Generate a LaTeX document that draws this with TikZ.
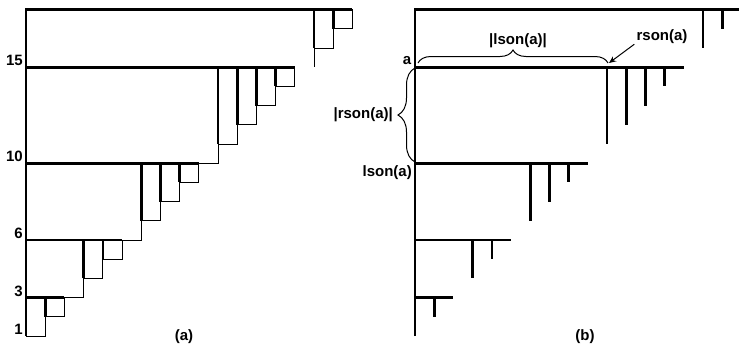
\documentclass[tikz,border=0pt]{standalone}
\usepackage{fontspec}
\setmainfont{Liberation Sans}
\usetikzlibrary{decorations.pathreplacing,arrows.meta}

\tikzset{
  bar/.style={line width=2.6pt},
  box/.style={line width=1pt},
  lbl/.style={font=\fontsize{15}{17}\selectfont\bfseries, inner sep=0pt},
  brace line/.style={line width=1pt, decorate},
}
\newcommand{\uw}{19.2}

\begin{document}
\begin{tikzpicture}[x=1pt, y=-1pt, >={Stealth[length=7pt,width=6pt]}]
  \useasboundingbox (0,0) rectangle (739,346);

  % level n sits at y = 336-(n-1)*uw
  \foreach \xo in {26,415} {
    \draw[bar] (\xo,336) |- ({\xo+17*\uw},9.6);
    \draw[bar] ({\xo+15*\uw},9.6) -- ({\xo+15*\uw},{336-15*\uw});
    \draw[bar] ({\xo+16*\uw},9.6) -- ({\xo+16*\uw},{336-16*\uw});
    \foreach \k/\t/\p in {2/3/1, 3/6/3, 4/10/6, 5/15/10} {
      \pgfmathsetmacro{\yt}{336-(\t-1)*\uw}
      \draw[bar] (\xo,\yt) -- ({\xo+(\t-1)*\uw},\yt);
      \pgfmathtruncatemacro{\km}{\k-1}
      \foreach \j in {1,...,\km} {
        \pgfmathsetmacro{\xj}{\xo+(\p+\j-1)*\uw}
        \draw[bar] (\xj,\yt) -- (\xj,{\yt+(\k-\j)*\uw});
      }
    }
  }

  % thin boxes of (a)
  \draw[box] ({26+15*\uw},9.6) -- ({26+15*\uw},{336-14*\uw});
  \draw[box] ({26+15*\uw},9.6) rectangle ({26+16*\uw},{336-15*\uw});
  \draw[box] ({26+16*\uw},9.6) rectangle ({26+17*\uw},{336-16*\uw});
  \foreach \k/\t/\p in {2/3/1, 3/6/3, 4/10/6, 5/15/10} {
    \pgfmathsetmacro{\yt}{336-(\t-1)*\uw}
    \draw[box] (26,\yt) rectangle ({26+\p*\uw},{336-(\p-1)*\uw});
    \pgfmathtruncatemacro{\km}{\k-1}
    \foreach \j in {1,...,\km} {
      \pgfmathsetmacro{\xj}{26+(\p+\j-1)*\uw}
      \draw[box] (\xj,\yt) rectangle ({\xj+\uw},{\yt+(\k-\j)*\uw});
    }
  }

  \foreach \n in {1,3,6,10,15}
    \node[lbl, anchor=south east] (lev\n) at (23,{335-(\n-1)*\uw}) {\n};

  % (b) annotations
  \node[lbl] (nodea) at (407,61) {a};
  \node[lbl] (lsonw) at (518,41) {|lson(a)|};
  \node[lbl] (rsonlbl) at (662,37) {rson(a)};
  \node[lbl, anchor=east] (rsonw) at (393,115) {|rson(a)|};
  \node[lbl, anchor=east] (lsonlbl) at (412,173) {lson(a)};
  \coordinate (rsontip) at (609,63);
  \draw[box, ->] ([xshift=-2pt]rsonlbl.south west) -- (rsontip);
  \draw[brace line, decoration={brace, amplitude=13pt}] (418,63) -- (608,63);
  \draw[brace line, decoration={brace, amplitude=17pt}] (415,162) -- (415,68);

  \node[lbl] (capa) at (184,337) {(a)};
  \node[lbl] (capb) at (585,337) {(b)};
\end{tikzpicture}
\end{document}
